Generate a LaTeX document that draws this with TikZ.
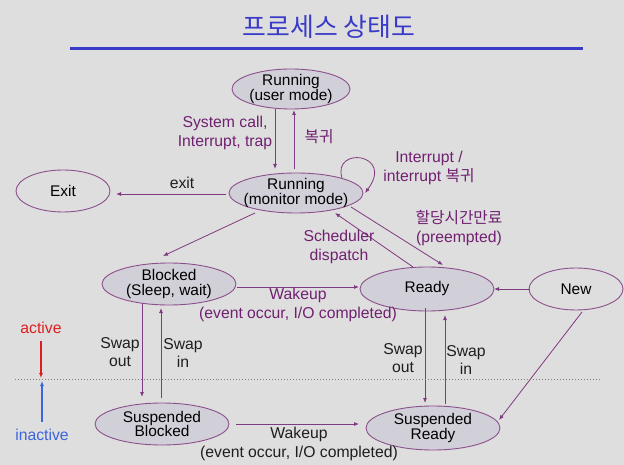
\documentclass[tikz,border=0pt]{standalone}
\usepackage{fontspec}
\setmainfont{Liberation Sans}
\newfontfamily\kr{Noto Sans CJK KR}
\usetikzlibrary{shapes.geometric,arrows.meta}
\definecolor{bg}{RGB}{222,222,222}
\definecolor{cell}{RGB}{209,208,217}
\definecolor{rim}{RGB}{140,80,140}
\definecolor{wire}{RGB}{128,58,128}
\definecolor{plum}{RGB}{112,32,112}
\definecolor{ink}{RGB}{30,30,30}
\definecolor{titleblue}{RGB}{58,58,200}
\definecolor{actred}{RGB}{222,30,30}
\definecolor{inactblue}{RGB}{60,100,220}

\begin{document}
\begin{tikzpicture}[x=1bp,y=-1bp,>={Latex[length=5bp,width=4bp]},
    state/.style={ellipse,draw=rim,fill=cell,line width=0.9bp,minimum width=134bp,minimum height=42bp,inner sep=0pt},
    txt/.style={align=center,text=black,font=\fontsize{15.5}{14.5}\selectfont},
    lbl/.style={align=center,text=plum,font=\fontsize{15.8}{18.5}\selectfont},
    note/.style={lbl,text=ink},
    edge/.style={->,draw=wire,line width=0.8bp}]
      \fill[bg] (0,0) rectangle (624,465);
      \useasboundingbox (0,0) rectangle (624,465);
      \node[txt,text=titleblue,font=\kr\fontsize{26}{26}\selectfont] (ttl) at (329,27) {프로세스 상태도};
      \draw[titleblue,line width=3bp] (70,49) -- (583,49);

      \node[state,minimum width=118bp,minimum height=40bp,label={[txt]center:{Running\\(user mode)}}] (usr) at (291,89) {};
      \node[state,minimum height=40bp,label={[txt]center:{Running\\(monitor mode)}}] (mon) at (296,193) {};
      \node[state,fill=none,minimum width=94bp,label={[txt]center:Exit}] (ext) at (63,191) {};
      \node[state,label={[txt]center:{Blocked\\(Sleep, wait)}}] (blk) at (169,284) {};
      \node[state,minimum height=44bp,label={[txt]center:Ready}] (rdy) at (427,289) {};
      \node[state,fill=none,minimum width=94bp,label={[txt]center:New}] (new) at (576,289) {};
      \node[state,label={[txt]center:{Suspended\\Blocked}}] (sblk) at (162,424) {};
      \node[state,minimum height=44bp,label={[txt]center:{Suspended\\Ready}}] (srdy) at (433,428) {};

      \draw[edge] ([shift={(-16,20)}]usr.center) -- ([shift={(-21,-24)}]mon.center);
      \draw[edge] ([shift={(-2,-24)}]mon.center) -- ([shift={(3,21)}]usr.center);
      \draw[edge] ([shift={(-70,1)}]mon.center) -- ([shift={(53,3)}]ext.center);
      \draw[edge] ([shift={(46,-15)}]mon.center) .. controls +(-10,-32) and +(30,-40) .. ([shift={(69,0)}]mon.center);
      \draw[edge] ([shift={(-41,20)}]mon.center) -- ([shift={(-6,-28)}]blk.center);
      \draw[edge] ([shift={(-14,-22)}]rdy.center) -- ([shift={(39,20)}]mon.center);
      \draw[edge] ([shift={(55,14)}]mon.center) -- ([shift={(16,-24)}]rdy.center);
      \draw[edge] ([shift={(68,3)}]blk.center) -- ([shift={(-68,-2)}]rdy.center);
      \draw[edge] ([shift={(-46,0)}]new.center) -- ([shift={(67,0)}]rdy.center);
      \draw[edge] ([shift={(6,23)}]new.center) -- ([shift={(66,-8)}]srdy.center);
      \draw[edge] ([shift={(-27,19)}]blk.center) -- ([shift={(-20,-27)}]sblk.center);
      \draw[edge] ([shift={(-1,-26)}]sblk.center) -- ([shift={(-8,24)}]blk.center);
      \draw[edge] ([shift={(-2,19)}]rdy.center) -- ([shift={(-8,-25)}]srdy.center);
      \draw[edge] ([shift={(12,-24)}]srdy.center) -- ([shift={(18,26)}]rdy.center);
      \draw[edge] ([shift={(74,0)}]sblk.center) -- ([shift={(-74,-4)}]srdy.center);

      \node[lbl] (lsys) at (225,133) {System call,\\Interrupt, trap};
      \node[lbl,font=\kr\fontsize{15.8}{18.5}\selectfont] (lret) at (319,137) {복귀};
      \node[note] (lexit) at (182,183) {exit};
      \node[lbl] (lint) at (429,168) {Interrupt /\\interrupt {\kr 복귀}};
      \node[lbl] (lpre) at (459,228) {{\kr 할당시간만료}\\(preempted)};
      \node[lbl] (ldisp) at (339,247) {Scheduler\\dispatch};
      \node[lbl] (lwake) at (298,305) {Wakeup\\(event occur, I/O completed)};
      \node[note] (lsout) at (120,352) {Swap\\out};
      \node[note] (lsin) at (183,353) {Swap\\in};
      \node[note] (rsout) at (403,358) {Swap\\out};
      \node[note] (rsin) at (466,360) {Swap\\in};
      \node[note] (swake) at (299,444) {Wakeup\\(event occur, I/O completed)};

      \coordinate (lft) at (15,379);
      \coordinate (rgt) at (600,379);
      \draw[gray,dotted,line width=1bp] (lft) -- (rgt);
      \node[lbl,text=actred] (act) at (41,328) {active};
      \node[lbl,text=inactblue] (inact) at (42,435) {inactive};
      \draw[->,actred,line width=1.6bp] (act.south) ++(0,4) -- (41,378);
      \draw[->,inactblue,line width=1.6bp] (inact.north) ++(0,-4) -- (42,381);
    \end{tikzpicture}
\end{document}
